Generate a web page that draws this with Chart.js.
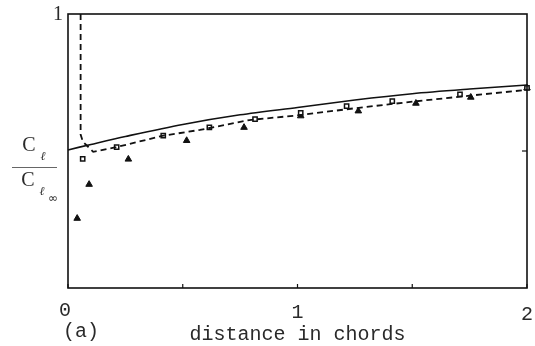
<!DOCTYPE html>
<html>
<head>
<meta charset="utf-8">
<script src="https://cdn.jsdelivr.net/npm/chart.js@4/dist/chart.umd.min.js"></script>
<style>
  html, body { margin: 0; padding: 0; background: #fff; }
  #grafica { display: block; }
</style>
</head>
<body>
<canvas id="grafica" width="535" height="346"></canvas>
<script>
// teoria: linea continua
const distContinua = [0, 0.1, 0.25, 0.5, 0.75, 1.0, 1.25, 1.5, 1.75, 2.0];
const ratioContinua = [0.504, 0.524, 0.553, 0.597, 0.632, 0.659, 0.686, 0.709, 0.726, 0.741];

// teoria: linea discontinua (sube a 1 cerca del borde)
const distDiscontinua = [0.055, 0.055, 0.065, 0.11, 0.21, 0.415, 0.575, 0.79, 1.0, 1.25, 1.5, 1.75, 2.0];
const ratioDiscontinua = [1.0, 0.56, 0.534, 0.497, 0.514, 0.556, 0.577, 0.613, 0.630, 0.656, 0.680, 0.702, 0.723];

// medidas: cuadrados
const distCuadrados = [0.064, 0.212, 0.415, 0.616, 0.815, 1.014, 1.214, 1.413, 1.708, 2.0];
const ratioCuadrados = [0.471, 0.514, 0.556, 0.586, 0.616, 0.639, 0.664, 0.682, 0.707, 0.730];

// medidas: triangulos
const distTriangulos = [0.04, 0.092, 0.263, 0.517, 0.767, 1.014, 1.265, 1.516, 1.755, 2.0];
const ratioTriangulos = [0.254, 0.378, 0.470, 0.538, 0.586, 0.628, 0.646, 0.674, 0.696, 0.730];

// ejes
const marcasX = [0, 0.5, 1, 1.5, 2];
const etiquetasX = ["0", "", "1", "", "2"];
const marcasY = [0.5];
const etiquetaYArriba = "1";
const tituloX = "distance in chords";
const etiquetaPanel = "(a)";

const grafica = document.getElementById("grafica");

function puntos(xs, ys) {
    return xs.map((x, i) => ({ x: x, y: ys[i] }));
}

// marco, marcas hacia dentro y textos
const marcoYTextos = {
    id: "marcoYTextos",
    afterDraw(chart) {
        const ctx = chart.ctx;
        const area = chart.chartArea;
        const ejeX = chart.scales.x;
        const ejeY = chart.scales.y;
        ctx.save();

        ctx.strokeStyle = "#111";
        ctx.lineWidth = 1.6;
        ctx.strokeRect(area.left, area.top, area.right - area.left, area.bottom - area.top);

        ctx.lineWidth = 1.2;
        marcasX.forEach(v => {
            const px = ejeX.getPixelForValue(v);
            ctx.beginPath();
            ctx.moveTo(px, area.bottom);
            ctx.lineTo(px, area.bottom - 4);
            ctx.stroke();
        });
        marcasY.forEach(v => {
            const py = ejeY.getPixelForValue(v);
            ctx.beginPath();
            ctx.moveTo(area.right, py);
            ctx.lineTo(area.right - 5, py);
            ctx.stroke();
        });

        ctx.fillStyle = "#2a2a2a";
        ctx.textAlign = "center";
        ctx.textBaseline = "middle";
        ctx.font = "20px 'Liberation Mono'";
        marcasX.forEach((v, i) => {
            if (etiquetasX[i] === "") return;
            let px = ejeX.getPixelForValue(v);
            if (v === 0) px -= 3;
            ctx.fillText(etiquetasX[i], px, area.bottom + 23 + v * 2);
        });
        ctx.fillText(tituloX, ejeX.getPixelForValue(1), area.bottom + 47);
        ctx.fillText(etiquetaPanel, 81, area.bottom + 44);

        ctx.font = "20px 'Liberation Serif'";
        ctx.fillText(etiquetaYArriba, area.left - 10, ejeY.getPixelForValue(1) + 1);

        // C_l / C_l,inf
        ctx.font = "20px 'Liberation Serif'";
        ctx.fillText("C", 29, 146);
        ctx.fillText("C", 28, 181);
        ctx.font = "italic 12px 'Liberation Serif'";
        ctx.fillText("\u2113", 43, 157);
        ctx.fillText("\u2113", 42, 192);
        ctx.font = "12px 'DejaVu Sans'";
        ctx.fillText("\u221e", 53, 199);
        ctx.strokeStyle = "#666";
        ctx.lineWidth = 1;
        ctx.beginPath();
        ctx.moveTo(12, 167.5);
        ctx.lineTo(57, 167.5);
        ctx.stroke();

        ctx.restore();
    }
};

const datos = {
    datasets: [
        {
            label: "continua",
            data: puntos(distContinua, ratioContinua),
            borderColor: "#111",
            borderWidth: 1.6,
            pointRadius: 0,
            tension: 0.3,
            fill: false,
        },
        {
            label: "discontinua",
            data: puntos(distDiscontinua, ratioDiscontinua),
            borderColor: "#111",
            borderWidth: 1.8,
            borderDash: [6, 4],
            pointRadius: 0,
            tension: 0,
            fill: false,
        },
        {
            label: "cuadrados",
            data: puntos(distCuadrados, ratioCuadrados),
            showLine: false,
            pointStyle: "rect",
            pointRadius: 3,
            pointBorderWidth: 1.5,
            pointBorderColor: "#111",
            pointBackgroundColor: "#fff",
        },
        {
            label: "triangulos",
            data: puntos(distTriangulos, ratioTriangulos),
            showLine: false,
            pointStyle: "triangle",
            pointRadius: 3.8,
            pointBorderWidth: 1,
            pointBorderColor: "#111",
            pointBackgroundColor: "#111",
        },
    ]
};

const configuracion = {
    type: "line",
    data: datos,
    options: {
        responsive: false,
        animation: false,
        clip: false,
        layout: { padding: { left: 68, right: 8, top: 14, bottom: 58 } },
        plugins: {
            legend: { display: false },
            tooltip: { enabled: false },
        },
        scales: {
            x: { type: "linear", min: 0, max: 2, display: false },
            y: { type: "linear", min: 0, max: 1, display: false },
        },
    },
    plugins: [marcoYTextos],
};

new Chart(grafica, configuracion);
</script>
</body>
</html>
